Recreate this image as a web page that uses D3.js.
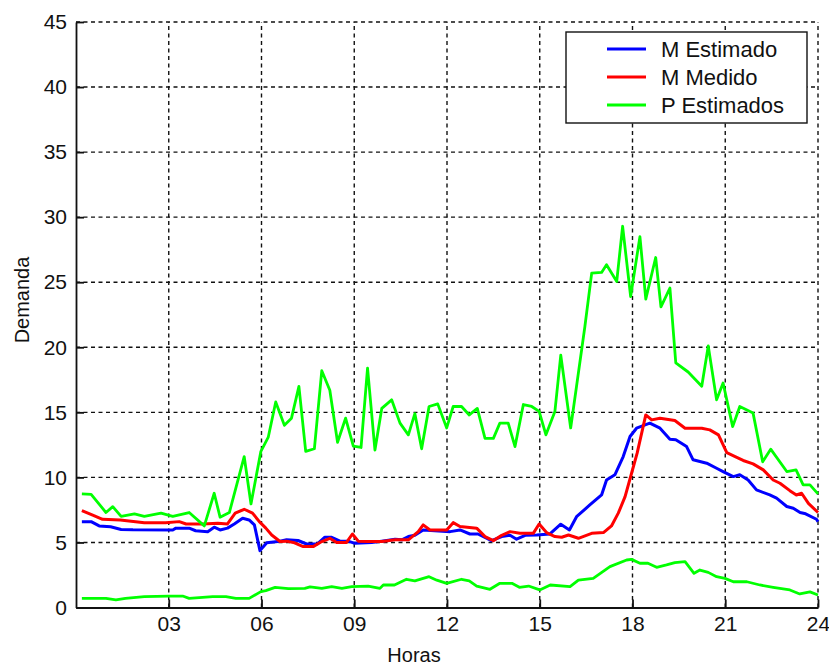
<!DOCTYPE html>
<html lang="es">
<head>
<meta charset="UTF-8"/>
<title>Demanda</title>
<script src="https://cdn.jsdelivr.net/npm/d3@7"></script>
<style>
  body { margin: 0; background: #fff; }
  svg text { font-family: "Liberation Sans", Arial, sans-serif; fill: #111; }
  .grid line { stroke: #111; stroke-width: 1.4; stroke-dasharray: 4,3.5; }
</style>
</head>
<body>
<script>
// tick labels
var xTicks = [3, 6, 9, 12, 15, 18, 21, 24];
var xTickLabels = ["03", "06", "09", "12", "15", "18", "21", "24"];
var yTicks = [0, 5, 10, 15, 20, 25, 30, 35, 40, 45];

var seriesNames = ["M Estimado", "M Medido", "P Estimados"];
var seriesColors = ["#0000ff", "#ff0000", "#00ff00"];

// [hora, demanda]
var mEstimado = [
  [0.19,6.6],[0.49,6.6],[0.75,6.27],[1.12,6.2],[1.46,6.0],[1.84,5.97],[3.13,5.96],[3.23,6.1],
  [3.66,6.1],[3.87,5.9],[4.26,5.83],[4.47,6.17],[4.66,5.96],[4.9,6.1],[5.12,6.42],[5.39,6.86],
  [5.6,6.73],[5.77,6.35],[5.95,4.37],[6.17,4.98],[6.6,5.1],[6.81,5.2],[7.18,5.15],[7.46,4.88],
  [7.8,4.88],[8.05,5.4],[8.27,5.4],[8.54,5.1],[8.8,5.1],[9.02,4.93],[9.56,5.0],[9.89,5.1],
  [10.32,5.25],[10.54,5.2],[10.75,5.45],[10.96,5.55],[11.23,5.96],[12.1,5.83],[12.42,5.96],
  [12.74,5.65],[13.0,5.65],[13.44,5.14],[13.77,5.45],[14.04,5.55],[14.25,5.25],[14.53,5.55],
  [14.9,5.57],[15.33,5.65],[15.68,6.4],[15.96,5.96],[16.19,6.98],[16.62,7.88],[17.0,8.65],
  [17.16,9.8],[17.43,10.2],[17.7,11.6],[17.92,13.14],[18.13,13.78],[18.56,14.17],[18.89,13.78],
  [19.21,12.94],[19.4,12.9],[19.75,12.37],[19.96,11.35],[20.4,11.09],[20.72,10.7],[20.93,10.45],
  [21.26,10.06],[21.47,10.2],[21.74,9.8],[22.01,9.04],[22.44,8.65],[22.66,8.4],[22.99,7.76],
  [23.2,7.63],[23.42,7.3],[23.6,7.2],[23.95,6.78],[24.0,6.6]
];

var mMedido = [
  [0.19,7.45],[0.54,7.1],[0.86,6.78],[1.43,6.73],[2.21,6.52],[2.9,6.52],[3.34,6.6],[3.56,6.42],
  [4.1,6.42],[4.59,6.47],[4.9,6.42],[5.15,7.25],[5.44,7.55],[5.71,7.25],[5.93,6.6],[6.14,6.1],
  [6.33,5.57],[6.6,5.07],[6.81,5.1],[7.03,5.0],[7.35,4.68],[7.67,4.68],[7.95,5.07],[8.21,5.32],
  [8.43,5.0],[8.75,5.0],[8.94,5.65],[9.13,5.1],[9.45,5.07],[9.89,5.07],[10.32,5.2],[10.75,5.2],
  [11.07,5.83],[11.23,6.35],[11.45,5.96],[11.99,5.96],[12.2,6.52],[12.42,6.22],[12.96,6.1],
  [13.23,5.45],[13.5,5.14],[13.77,5.55],[14.04,5.83],[14.36,5.7],[14.79,5.7],[14.98,6.42],
  [15.22,5.76],[15.49,5.45],[15.71,5.4],[15.93,5.57],[16.25,5.32],[16.68,5.7],[17.06,5.76],
  [17.32,6.27],[17.54,7.25],[17.76,8.52],[17.97,10.32],[18.15,11.86],[18.43,14.8],[18.62,14.42],
  [18.89,14.55],[19.37,14.37],[19.7,13.78],[20.24,13.78],[20.5,13.65],[20.78,13.27],[21.05,11.9],
  [21.32,11.6],[21.58,11.3],[21.9,11.04],[22.23,10.58],[22.55,9.8],[22.77,9.55],[23.09,8.98],
  [23.3,8.65],[23.47,8.78],[23.69,8.0],[24.0,7.3]
];

var pEstimadosAlto = [
  [0.19,8.73],[0.49,8.7],[0.97,7.3],[1.19,7.75],[1.46,7.0],[1.89,7.2],[2.21,7.0],[2.75,7.25],
  [3.13,7.0],[3.66,7.3],[4.15,6.27],[4.47,8.78],[4.66,6.94],[4.96,7.3],[5.44,11.6],[5.66,7.96],
  [5.98,12.0],[6.22,13.1],[6.46,15.8],[6.74,14.0],[6.97,14.55],[7.21,17.0],[7.43,12.0],
  [7.71,12.2],[7.95,18.2],[8.21,16.7],[8.46,12.7],[8.72,14.55],[8.97,12.4],[9.22,12.3],
  [9.43,18.4],[9.67,12.1],[9.89,15.3],[10.21,15.96],[10.48,14.17],[10.75,13.27],[10.96,14.9],
  [11.18,12.2],[11.42,15.45],[11.7,15.65],[11.99,13.8],[12.2,15.45],[12.47,15.45],[12.72,14.8],
  [12.98,15.3],[13.23,13.0],[13.5,13.0],[13.71,14.17],[13.98,14.17],[14.2,12.37],[14.47,15.6],
  [14.74,15.45],[14.98,15.07],[15.2,13.27],[15.49,15.07],[15.68,19.4],[16.0,13.8],[16.19,17.0],
  [16.46,21.6],[16.68,25.7],[17.0,25.75],[17.16,26.35],[17.49,25.06],[17.68,29.3],[17.94,23.9],
  [18.24,28.5],[18.43,23.7],[18.75,26.9],[18.92,23.1],[19.21,24.55],[19.4,18.8],[19.8,18.1],
  [20.24,17.0],[20.45,20.1],[20.72,15.96],[20.93,17.25],[21.24,13.9],[21.47,15.45],[21.9,14.94],
  [22.21,11.2],[22.47,12.17],[22.99,10.45],[23.29,10.58],[23.52,9.42],[23.74,9.42],[24.0,8.73]
];

var pEstimadosBajo = [
  [0.19,0.7],[0.97,0.7],[1.29,0.58],[1.6,0.7],[2.21,0.83],[3.0,0.87],[3.45,0.88],[3.66,0.7],
  [4.42,0.83],[4.85,0.83],[5.17,0.7],[5.6,0.7],[5.98,1.22],[6.14,1.3],[6.44,1.55],[6.87,1.45],
  [7.4,1.47],[7.57,1.58],[7.95,1.47],[8.27,1.6],[8.6,1.47],[8.92,1.6],[9.45,1.65],[9.83,1.47],
  [9.94,1.73],[10.3,1.73],[10.69,2.17],[10.96,2.05],[11.42,2.37],[11.67,2.1],[11.99,1.85],
  [12.47,2.17],[12.72,2.05],[12.96,1.65],[13.39,1.4],[13.71,1.86],[14.1,1.86],[14.34,1.55],
  [14.64,1.65],[15.0,1.35],[15.34,1.73],[15.98,1.6],[16.25,2.1],[16.73,2.24],[17.27,3.14],
  [17.81,3.65],[17.97,3.7],[18.24,3.4],[18.5,3.4],[18.78,3.09],[19.1,3.27],[19.37,3.45],
  [19.7,3.52],[19.99,2.63],[20.18,2.88],[20.45,2.7],[20.72,2.37],[20.99,2.24],[21.26,1.98],
  [21.7,1.98],[22.12,1.73],[22.55,1.55],[23.09,1.35],[23.41,1.04],[23.74,1.2],[24.0,0.96]
];

var w = 829, h = 666;
var padLeft = 76, padRight = 818, padTop = 22, padBottom = 607.5;

var svg = d3.select("body").append("svg")
  .attr("width", w)
  .attr("height", h);

var xScale = d3.scaleLinear().domain([0, 24]).range([padLeft, padRight]);
var yScale = d3.scaleLinear().domain([0, 45]).range([padBottom, padTop]);

// dashed grid
var grid = svg.append("g").attr("class", "grid");
grid.selectAll("line.v")
  .data(xTicks)
  .enter().append("line")
  .attr("class", "v")
  .attr("x1", function(d) { return xScale(d); })
  .attr("x2", function(d) { return xScale(d); })
  .attr("y1", yScale(0))
  .attr("y2", yScale(45));
grid.selectAll("line.h")
  .data(yTicks.filter(function(d) { return d > 0; }))
  .enter().append("line")
  .attr("class", "h")
  .attr("x1", xScale(0))
  .attr("x2", xScale(24))
  .attr("y1", function(d) { return yScale(d); })
  .attr("y2", function(d) { return yScale(d); });

// axes, ticks drawn inward like matlab
var xAxis = d3.axisBottom(xScale)
  .tickValues(xTicks)
  .tickSizeInner(-8)
  .tickSizeOuter(0)
  .tickPadding(10)
  .tickFormat(function(d, i) { return xTickLabels[i]; });
var yAxis = d3.axisLeft(yScale)
  .tickValues(yTicks)
  .tickSizeInner(-8)
  .tickSizeOuter(0)
  .tickPadding(10);

var gx = svg.append("g")
  .attr("transform", "translate(0," + padBottom + ")")
  .call(xAxis);
var gy = svg.append("g")
  .attr("transform", "translate(" + padLeft + ",0)")
  .call(yAxis);

[gx, gy].forEach(function(g) {
  g.select(".domain").attr("stroke", "#111").attr("stroke-width", 1.8);
  g.selectAll(".tick line").attr("stroke", "#111").attr("stroke-width", 1.8);
  g.selectAll("text").attr("font-size", 21).attr("fill", "#111")
    .attr("font-family", "Liberation Sans, Arial, sans-serif");
});
gx.selectAll(".tick text").attr("y", 8).attr("dy", "0.75em");
gy.selectAll(".tick text").attr("x", -9);

// lines
var line = d3.line()
  .x(function(d) { return xScale(d[0]); })
  .y(function(d) { return yScale(d[1]); });

var plots = [
  { data: mEstimado, color: seriesColors[0], sw: 3 },
  { data: mMedido, color: seriesColors[1], sw: 3 },
  { data: pEstimadosAlto, color: seriesColors[2], sw: 2.8 },
  { data: pEstimadosBajo, color: seriesColors[2], sw: 2.8 }
];
svg.selectAll("path.serie")
  .data(plots)
  .enter().append("path")
  .attr("class", "serie")
  .attr("d", function(d) { return line(d.data); })
  .attr("fill", "none")
  .attr("stroke", function(d) { return d.color; })
  .attr("stroke-width", function(d) { return d.sw; })
  .attr("stroke-linejoin", "round");

// axis labels
svg.append("text")
  .attr("x", 414)
  .attr("y", 662)
  .attr("text-anchor", "middle")
  .attr("font-size", 20)
  .text("Horas");
svg.append("text")
  .attr("transform", "translate(29,300) rotate(-90)")
  .attr("text-anchor", "middle")
  .attr("font-size", 20)
  .text("Demanda");

// legend
var legend = svg.append("g").attr("transform", "translate(566,32)");
legend.append("rect")
  .attr("width", 241)
  .attr("height", 91)
  .attr("fill", "#fff")
  .attr("stroke", "#111")
  .attr("stroke-width", 1.4);
var items = legend.selectAll("g.item")
  .data(seriesNames)
  .enter().append("g")
  .attr("class", "item")
  .attr("transform", function(d, i) { return "translate(0," + (17 + i * 28) + ")"; });
items.append("line")
  .attr("x1", 41).attr("x2", 80)
  .attr("stroke", function(d, i) { return seriesColors[i]; })
  .attr("stroke-width", 3);
items.append("text")
  .attr("x", 95)
  .attr("dy", "0.36em")
  .attr("font-size", 22)
  .text(function(d) { return d; });
</script>
</body>
</html>
